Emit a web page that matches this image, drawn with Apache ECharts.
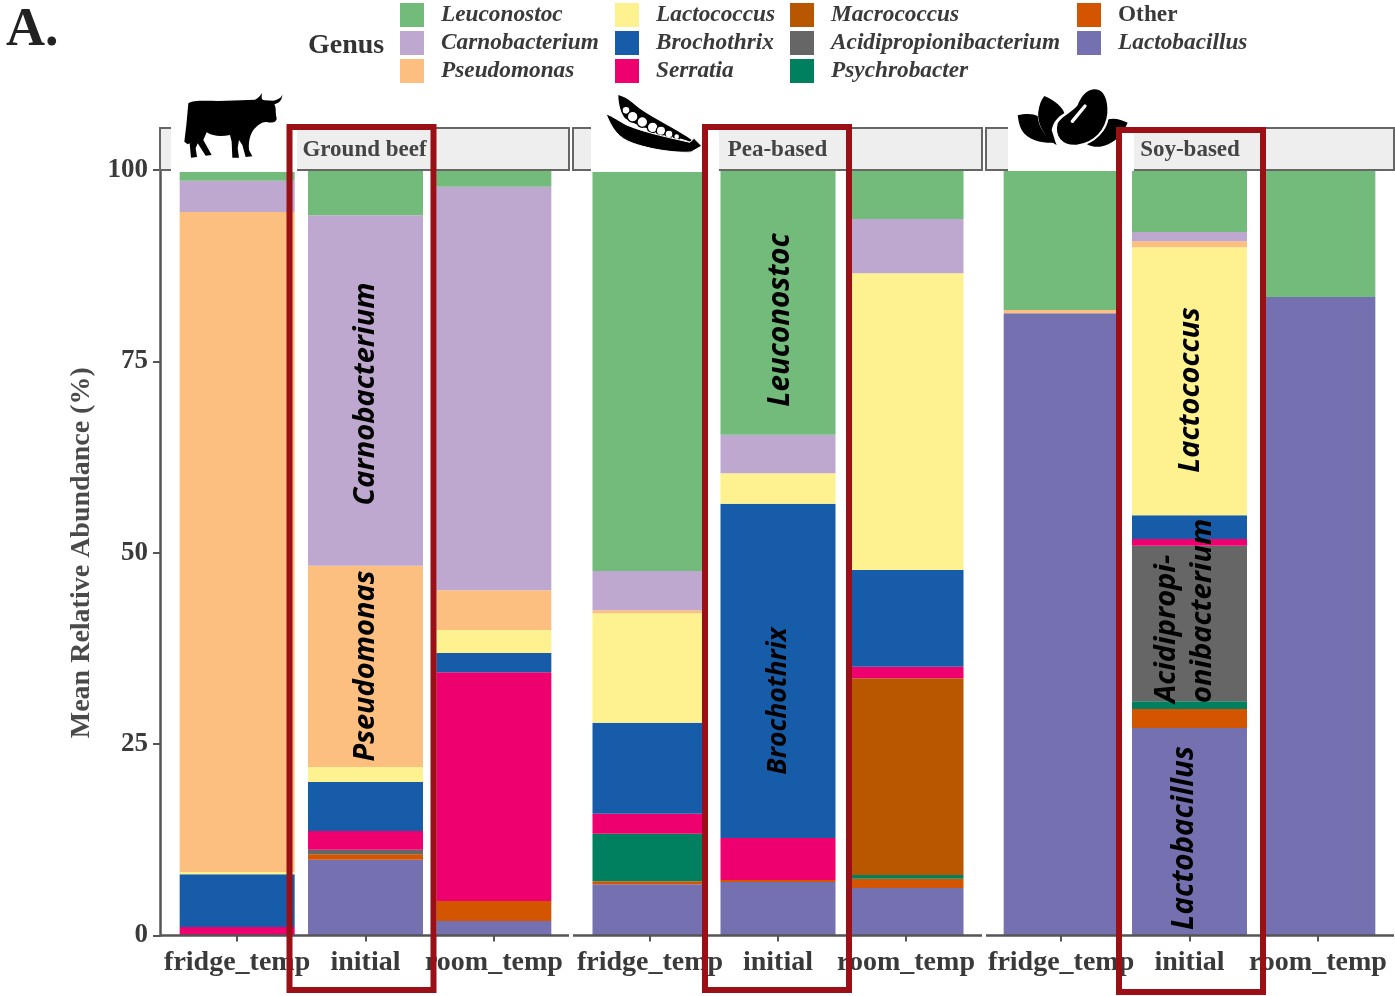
<!DOCTYPE html>
<html><head><meta charset="utf-8">
<style>html,body{margin:0;padding:0;background:#fff}#c{width:1395px;height:996px}</style>
<script src="https://cdn.jsdelivr.net/npm/echarts@6/dist/echarts.min.js"></script>
</head><body><div id="c"></div>
<script>
const categories = ['fridge_temp','initial','room_temp'];
const panelNames = ['Ground beef','Pea-based','Soy-based'];
// each array: beef f/i/r, pea f/i/r, soy f/i/r
const Lactobacillus = [0, 9.9, 1.9, 6.7, 7.0, 6.2, 81.3, 27.1, 83.4];
const Other = [0, 0.7, 2.6, 0.4, 0.25, 1.2, 0, 2.5, 0];
const Psychrobacter = [0, 0, 0, 6.2, 0, 0.5, 0, 1.0, 0];
const Acidipropionibacterium = [0, 0.6, 0, 0, 0, 0, 0, 20.3, 0];
const Macrococcus = [0, 0, 0, 0, 0, 25.7, 0, 0, 0];
const Serratia = [1.1, 2.45, 29.9, 2.6, 5.5, 1.5, 0, 0.9, 0];
const Brochothrix = [6.9, 6.4, 2.5, 11.9, 43.65, 12.65, 0, 3.1, 0];
const Lactococcus = [0.3, 1.95, 3.0, 14.3, 4.0, 38.75, 0, 35.0, 0];
const Pseudomonas = [86.2, 26.3, 5.2, 0.4, 0, 0, 0.4, 0.8, 0];
const Carnobacterium = [4.1, 45.8, 52.7, 5.1, 5.0, 7.1, 0, 1.2, 0];
const Leuconostoc = [1.4, 5.9, 2.2, 52.4, 34.6, 6.4, 18.3, 8.1, 16.6];

const stackOrder = [
 ['Lactobacillus',Lactobacillus,'#7570b0'],['Other',Other,'#d45500'],['Psychrobacter',Psychrobacter,'#01805f'],
 ['Acidipropionibacterium',Acidipropionibacterium,'#666666'],['Macrococcus',Macrococcus,'#b95600'],
 ['Serratia',Serratia,'#ee006e'],['Brochothrix',Brochothrix,'#165ca8'],['Lactococcus',Lactococcus,'#fef190'],
 ['Pseudomonas',Pseudomonas,'#fdbf7f'],['Carnobacterium',Carnobacterium,'#bea8cf'],['Leuconostoc',Leuconostoc,'#73bb7b']];
const legendColumns = [
 [400,['Leuconostoc','Carnobacterium','Pseudomonas']],
 [615,['Lactococcus','Brochothrix','Serratia']],
 [790,['Macrococcus','Acidipropionibacterium','Psychrobacter']],
 [1077,['Other','Lactobacillus']]];

const SERIF = '"Liberation Serif"', SANS = '"Open Sans"';
const TOP = 170, BOTTOM = 935.5;
const grids = [{left:173,width:385,p0:160,p1:569},{left:586,width:384,p0:573,p1:982},{left:997,width:385,p0:986,p1:1394}];

const xAxis = grids.map((g,i)=>({type:'category',gridIndex:i,data:categories,
  axisLine:{show:false},axisTick:{show:true,alignWithLabel:true,length:6,lineStyle:{color:'#555',width:2}},
  axisLabel:{interval:0,margin:13,fontFamily:SERIF,fontWeight:'bold',fontSize:28,color:'#3a3a3a'}}));
const yAxis = grids.map((g,i)=>({type:'value',gridIndex:i,min:0,max:100,interval:25,show:i===0,offset:13,
  name:'Mean Relative Abundance (%)',nameLocation:'middle',nameGap:64,
  nameTextStyle:{fontFamily:SERIF,fontWeight:'bold',fontSize:28,color:'#4a4a4a'},
  axisLine:{show:true,lineStyle:{color:'#555',width:2.5}},axisTick:{show:true,length:7,lineStyle:{color:'#555',width:2}},
  splitLine:{show:false},axisLabel:{margin:12,padding:[3,0,0,0],fontFamily:SERIF,fontWeight:'bold',fontSize:27,color:'#3a3a3a'}}));

const series = [];
grids.forEach((g,i)=>stackOrder.forEach(([name,vals,color])=>series.push({
  type:'bar',name,xAxisIndex:i,yAxisIndex:i,stack:'panel'+i,barWidth:115,silent:true,
  itemStyle:{color},data:vals.slice(i*3,i*3+3)})));

const graphic = [];
// panel strips and baselines
grids.forEach((g,i)=>{
  graphic.push({type:'rect',z:5,shape:{x:g.p0,y:128,width:g.p1-g.p0,height:42},style:{fill:'#eeeeee',stroke:'#666',lineWidth:2}});
  graphic.push({type:'text',z:6,x:(g.p0+g.p1)/2,y:150.5,style:{text:panelNames[i],font:'bold 23px '+SERIF,fill:'#444',align:'center',verticalAlign:'middle'}});
  graphic.push({type:'line',z:7,shape:{x1:g.p0,y1:BOTTOM,x2:g.p1,y2:BOTTOM},style:{stroke:'#555',lineWidth:2.5}});
});
// white icon patches
[[171,126,84],[591,128,84],[1008,126,83]].forEach(([x,w,h])=>graphic.push({type:'rect',z:8,shape:{x,y:88,width:w,height:h},style:{fill:'#fff'}}));
// icons (decorative silhouettes)
let iconCount = 0;
const icon = (x,y,pathData,extra,z)=>{
  const name = 'iconShape'+(iconCount++);
  echarts.graphic.registerShape(name, echarts.graphic.extendPath(pathData,{}));
  graphic.push({type:name,z:z||9,x,y,scaleX:1/3,scaleY:1/3,style:Object.assign({fill:'#000'},extra||{})});
};
icon(165,85,'M70,55 C85,45 120,48 160,48 L230,46 L270,44 C280,40 288,30 290,24 C292,35 285,44 300,46 L325,47 C340,44 350,38 352,28 C352,45 342,55 328,58 C335,70 330,80 335,100 C335,110 325,115 308,112 C295,108 280,118 265,135 C255,150 250,170 252,195 L262,214 L242,216 L232,180 L222,165 L218,190 L222,218 L202,218 L200,170 L195,150 C170,155 145,155 125,142 L115,165 L140,210 L122,212 L98,175 L92,190 L96,216 L78,218 L74,175 L68,178 L58,170 L64,120 Z');
icon(590,85,'M85,30 C120,40 130,60 170,85 C220,115 270,140 305,165 L300,170 C240,150 150,130 105,100 C90,80 85,50 85,30Z');
[[108,76,12],[128,95,16],[157,111,16],[188,127,16],[213,137,14],[237,147,12],[260,155,9]].forEach(([cx,cy,r])=>
  graphic.push({type:'circle',z:10,x:590,y:85,scaleX:1/3,scaleY:1/3,shape:{cx,cy,r},style:{fill:'#fff',stroke:'#000',lineWidth:4}}));
icon(590,85,'M48,86 C70,95 90,110 110,120 C170,145 250,160 300,172 L312,160 L335,183 L305,200 C290,205 200,200 130,175 C85,160 65,130 48,86Z',{stroke:'#fff',lineWidth:3},11);
icon(1005,80,'M38,106 C60,100 85,100 98,108 C100,140 120,170 150,188 C120,190 70,185 50,150 C42,135 40,120 38,106Z');
icon(1005,80,'M118,48 C150,60 175,85 178,100 C160,110 145,125 140,150 C145,165 150,185 155,195 C120,175 95,130 100,95 C103,75 108,60 118,48Z');
icon(1005,80,'M310,118 C330,112 350,120 368,128 C350,170 320,195 285,200 C270,202 255,198 245,192 C275,180 305,150 310,118Z');
icon(1005,80,'M270,25 C300,25 312,60 310,100 C305,150 270,190 215,197 C170,200 145,170 155,130 C165,105 195,100 215,75 C225,50 240,25 270,25Z',{stroke:'#fff',lineWidth:6},11);
graphic.push({type:'line',z:12,x:1005,y:80,scaleX:1/3,scaleY:1/3,shape:{x1:202,y1:124,x2:240,y2:78},style:{stroke:'#fff',lineWidth:10,lineCap:'round'}});
// red highlight frames
[[289.5,127,144,863],[705,127,144,863],[1119,130,144,862]].forEach(([x,y,width,height])=>
  graphic.push({type:'rect',z:15,shape:{x,y,width,height},style:{fill:'none',stroke:'#9b0f17',lineWidth:6}}));
// genus annotations
[['Carnobacterium',366,394,29],['Pseudomonas',366,666,29],['Leuconostoc',781,320,29.5],['Brochothrix',778,701,26.5],['Lactococcus',1191,390,29],['Lactobacillus',1185,838,29.5]].forEach(([text,x,y,size])=>
  graphic.push({type:'text',z:16,x,y,rotation:Math.PI/2,style:{text,font:'italic bold '+size+'px '+SANS,fill:'#000',align:'center',verticalAlign:'middle'}}));
graphic.push({type:'text',z:16,x:1167,y:703,rotation:Math.PI/2,style:{text:'Acidipropi-',font:'italic bold 29px '+SANS,fill:'#000',align:'left',verticalAlign:'middle'}});
graphic.push({type:'text',z:16,x:1203,y:703,rotation:Math.PI/2,style:{text:'onibacterium',font:'italic bold 29px '+SANS,fill:'#000',align:'left',verticalAlign:'middle'}});
// titles
graphic.push({type:'text',z:16,x:6,y:31,style:{text:'A.',font:'bold 54px '+SERIF,fill:'#222',align:'left',verticalAlign:'middle'}});
graphic.push({type:'text',z:16,x:308,y:46,style:{text:'Genus',font:'bold 28px '+SERIF,fill:'#333',align:'left',verticalAlign:'middle'}});

const chart = echarts.init(document.getElementById('c'),null,{renderer:'canvas'});
chart.setOption({
  animation:false,backgroundColor:'#fff',
  grid:grids.map(g=>({left:g.left,width:g.width,top:TOP,height:BOTTOM-TOP,containLabel:false})),
  xAxis,yAxis,series,graphic,
  legend:legendColumns.map(([left,names])=>({left,top:3,orient:'vertical',itemWidth:24,itemHeight:24,itemGap:4,icon:'rect',selectedMode:false,
    padding:0,
    data:names.map(name=>({name,textStyle:{fontStyle:name==='Other'?'normal':'italic'}})),
    textStyle:{fontFamily:SERIF,fontWeight:'bold',fontStyle:'italic',fontSize:23.3,color:'#3a3a3a',padding:[2,0,0,12]}}))
});
</script></body></html>
